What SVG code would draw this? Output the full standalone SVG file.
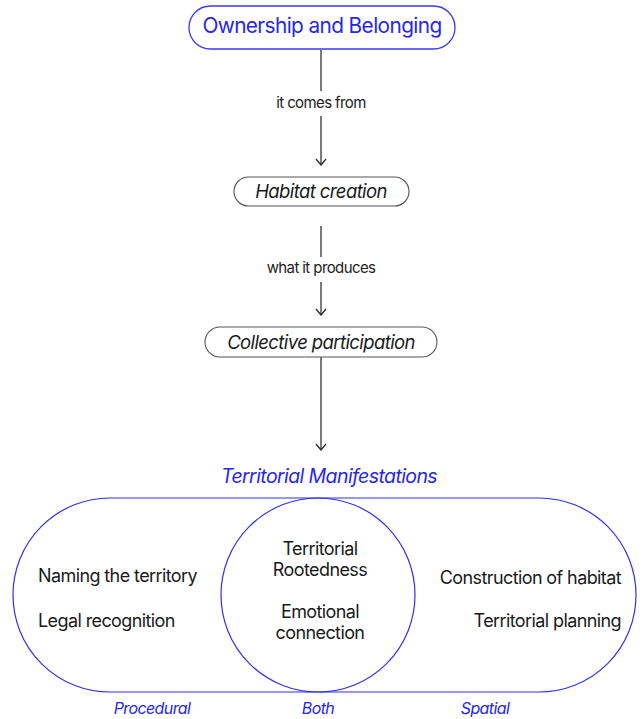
<svg xmlns="http://www.w3.org/2000/svg" width="643" height="719" viewBox="0 0 643 719">
  <defs>
    <style>
      text { font-family: Inter, "Noto Sans", "Liberation Sans", sans-serif; letter-spacing: -0.6px; }
      .blue { fill: #2626f0; }
      .dark { fill: #1a1a1a; }
      .ital { font-style: italic; }
      .pill-blue { fill: #ffffff; stroke: #3a3af0; stroke-width: 1.3; }
      .pill-grey { fill: #ffffff; stroke: #555555; stroke-width: 1.1; }
      .venn { fill: none; stroke: #3030ee; stroke-width: 1.2; }
      .conn { stroke: #222222; stroke-width: 1.2; fill: none; }
      .lbl { font-size: 15px; fill: #222222; text-anchor: middle; }
      .item { font-size: 18px; fill: #1a1a1a; }
    </style>
    <!-- open chevron head, drawn pointing along +x so orient="auto" follows the line -->
    <marker id="arrow" viewBox="0 0 8 12" refX="7" refY="6" markerWidth="8" markerHeight="12" markerUnits="userSpaceOnUse" orient="auto">
      <path d="M1,1 L7,6 L1,11" fill="none" stroke="#222222" stroke-width="1.2"/>
    </marker>
  </defs>

  <!-- connectors -->
  <g id="connectors">
    <line class="conn" x1="321" y1="50" x2="321" y2="91"/>
    <text class="lbl" x="321" y="108">it comes from</text>
    <line class="conn" x1="321" y1="116" x2="321" y2="165" marker-end="url(#arrow)"/>
    <line class="conn" x1="321" y1="226" x2="321" y2="257"/>
    <text class="lbl" x="321" y="273">what it produces</text>
    <line class="conn" x1="321" y1="282" x2="321" y2="315" marker-end="url(#arrow)"/>
    <line class="conn" x1="321" y1="357" x2="321" y2="450" marker-end="url(#arrow)"/>
  </g>

  <g id="ownership">
    <rect class="pill-blue" x="189" y="6" width="266" height="43" rx="21.5"/>
    <text class="blue" x="322" y="33" font-size="20.8" text-anchor="middle">Ownership and Belonging</text>
  </g>

  <g id="habitat">
    <rect class="pill-grey" x="234" y="177" width="175" height="29" rx="14.5"/>
    <text class="dark ital" x="321" y="198" font-size="18.5" text-anchor="middle">Habitat creation</text>
  </g>

  <g id="collective">
    <rect class="pill-grey" x="205" y="327" width="232" height="30" rx="15"/>
    <text class="dark ital" x="321" y="349" font-size="18.5" text-anchor="middle">Collective participation</text>
  </g>

  <g id="manifestations">
    <text class="blue ital" x="329" y="483" font-size="19.5" text-anchor="middle">Territorial Manifestations</text>
    <rect class="venn" x="13" y="498" width="623" height="194" rx="97"/>
    <circle class="venn" cx="318" cy="595" r="97"/>

    <g id="procedural">
      <text class="item" x="38" y="582">Naming the territory</text>
      <text class="item" x="38" y="627">Legal recognition</text>
      <text class="blue ital" x="152" y="714" font-size="16" text-anchor="middle">Procedural</text>
    </g>
    <g id="both">
      <text class="item" x="320" y="555" text-anchor="middle">Territorial</text>
      <text class="item" x="320" y="576" text-anchor="middle">Rootedness</text>
      <text class="item" x="320" y="618" text-anchor="middle">Emotional</text>
      <text class="item" x="320" y="639" text-anchor="middle">connection</text>
      <text class="blue ital" x="318" y="714" font-size="16" text-anchor="middle">Both</text>
    </g>
    <g id="spatial">
      <text class="item" x="621" y="584" text-anchor="end">Construction of habitat</text>
      <text class="item" x="621" y="627" text-anchor="end">Territorial planning</text>
      <text class="blue ital" x="485" y="714" font-size="16" text-anchor="middle">Spatial</text>
    </g>
  </g>
</svg>
